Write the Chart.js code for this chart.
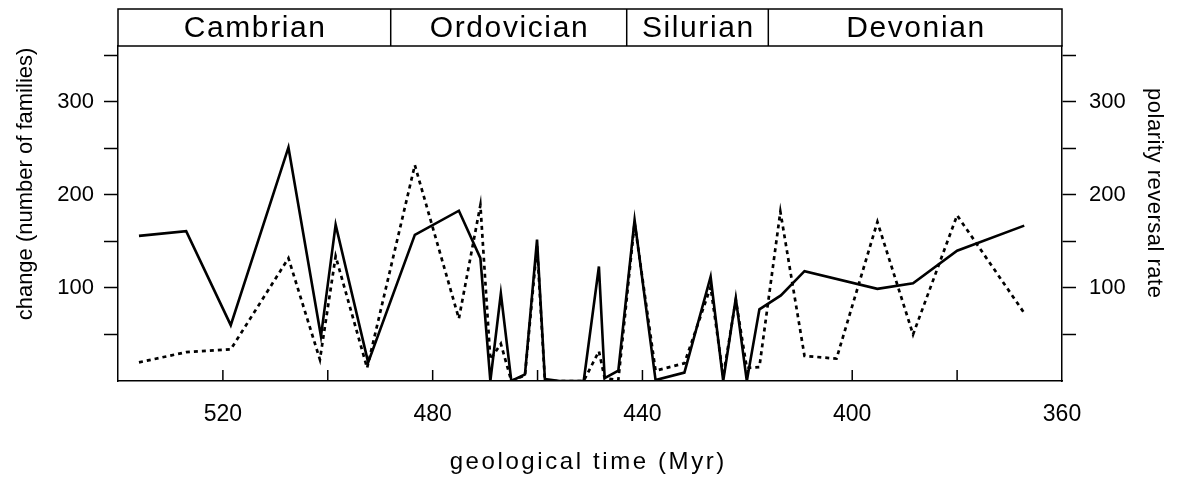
<!DOCTYPE html>
<html>
<head>
<meta charset="utf-8">
<script src="https://cdn.jsdelivr.net/npm/chart.js@4/dist/chart.umd.min.js"></script>
<style>
  html, body { margin: 0; padding: 0; background: #fff; }
  #wrap { width: 1177px; height: 481px; }
</style>
</head>
<body>
<div id="wrap"><canvas id="c" width="1177" height="481"></canvas></div>
<script>
// Change in number of families through time (Myr before present)
const familyAges = [536, 527, 518.5, 507.5, 501.3, 498.5, 492.3, 483.4, 475, 470.9,
  469, 467, 465, 462.4, 460.1, 458.6, 455.8, 451.2, 448.3, 447.2,
  444.6, 441.5, 437.5, 432, 427, 424.6, 422.2, 420.1, 417.7, 413.6,
  409.1, 395.2, 388.4, 380, 367.2];
const familyChange = [156, 161, 60, 251, 48, 168, 20, 157, 183, 132,
  0, 94, 0, 7, 152, 2, 0, 0, 123, 3,
  11, 173, 1, 9, 112, 0, 89, 0, 77, 92,
  118, 99, 105, 140, 167];

// Geomagnetic polarity reversal rate
const reversalAges = [536, 527, 518.5, 507.5, 501.5, 498.5, 492.5, 483.4, 475, 470.9,
  469, 467, 465, 462.4, 460.1, 458.6, 451.2, 448.3, 447.2, 444.6,
  441.5, 437.5, 432, 427, 424.6, 422.2, 420.1, 417.7, 413.7, 409.1,
  403, 395.2, 388.4, 380, 367.2];
const reversalRate = [20, 31, 34, 132, 23, 134, 14, 232, 67, 189,
  23, 40, 0, 6, 145, 0, 0, 32, 3, 1,
  170, 11, 19, 101, 5, 87, 14, 15, 182, 27,
  24, 171, 50, 178, 73];

// Geological periods and their boundaries (Myr)
const periodNames = ['Cambrian', 'Ordovician', 'Silurian', 'Devonian'];
const periodBounds = [540, 488, 443, 416, 360];

const xTickLabels = [520, 480, 440, 400, 360];
const yTickLabels = [100, 200, 300];

const xTitle = 'geological time (Myr)';
const yTitle = 'change (number of families)';
const y2Title = 'polarity reversal rate';

const FONT = 'Liberation Sans, Arial, Helvetica, sans-serif';
const INK = '#000';

const toPoints = (xs, ys) => xs.map((x, i) => ({ x: x, y: ys[i] }));

function drawText(ctx, text, x, y, angle, size, spacing) {
  ctx.save();
  ctx.translate(x, y);
  ctx.rotate(angle);
  ctx.font = size + 'px ' + FONT;
  ctx.letterSpacing = spacing + 'px';
  ctx.textAlign = 'center';
  ctx.textBaseline = 'middle';
  ctx.fillStyle = INK;
  ctx.fillText(text, spacing / 2, 0);
  ctx.restore();
}

// Period strip above the plot, the plot's top edge, inward x ticks and axis titles
const decorations = {
  id: 'decorations',
  afterDraw(chart) {
    const ctx = chart.ctx;
    const area = chart.chartArea;
    const xs = chart.scales.x;
    const stripTop = 9;
    ctx.save();
    ctx.strokeStyle = INK;
    ctx.lineWidth = 1.5;
    ctx.strokeRect(area.left, stripTop, area.right - area.left, area.top - stripTop);
    for (let i = 0; i < periodNames.length; i++) {
      const a = xs.getPixelForValue(periodBounds[i]);
      const b = xs.getPixelForValue(periodBounds[i + 1]);
      if (i > 0) {
        ctx.beginPath();
        ctx.moveTo(a, stripTop);
        ctx.lineTo(a, area.top);
        ctx.stroke();
      }
      drawText(ctx, periodNames[i], (a + b) / 2, (stripTop + area.top) / 2 + 1, 0, 30, 1.6);
    }
    xs.ticks.forEach(t => {
      if (t.value <= xs.min || t.value >= xs.max) return;
      const px = xs.getPixelForValue(t.value);
      ctx.beginPath();
      ctx.moveTo(px, area.bottom);
      ctx.lineTo(px, area.bottom - 11);
      ctx.stroke();
    });
    ctx.restore();

    drawText(ctx, xTitle, 587, 462, 0, 24, 2.6);
    drawText(ctx, yTitle, 26, 184, -Math.PI / 2, 22, 0);
    drawText(ctx, y2Title, 1154, 193, Math.PI / 2, 22, 0.5);
  }
};

const yAxis = (position, width, labelPad) => ({
  type: 'linear',
  position: position,
  min: 0,
  max: 360,
  afterFit: s => { s.width = width; },
  border: { display: true, color: INK, width: 1.5 },
  grid: {
    drawOnChartArea: false,
    drawTicks: true,
    tickLength: 14,
    tickWidth: 1.5,
    tickColor: c => (c.tick && c.tick.value === 0 ? 'rgba(0,0,0,0)' : INK)
  },
  ticks: {
    stepSize: 50,
    includeBounds: false,
    padding: labelPad,
    color: INK,
    font: { family: FONT, size: 22 },
    callback: v => (yTickLabels.includes(v) ? String(v) : '')
  }
});

new Chart(document.getElementById('c'), {
  type: 'line',
  data: {
    datasets: [
      {
        label: yTitle,
        data: toPoints(familyAges, familyChange),
        yAxisID: 'y',
        borderColor: INK,
        borderWidth: 2.6,
        pointRadius: 0,
        tension: 0,
        fill: false
      },
      {
        label: y2Title,
        data: toPoints(reversalAges, reversalRate),
        yAxisID: 'y2',
        borderColor: INK,
        borderWidth: 2.7,
        borderDash: [4, 4],
        pointRadius: 0,
        tension: 0,
        fill: false
      }
    ]
  },
  options: {
    responsive: false,
    devicePixelRatio: 1,
    animation: false,
    layout: { padding: { top: 46, left: 0, right: 0, bottom: 0 } },
    plugins: {
      legend: { display: false },
      tooltip: { enabled: false }
    },
    scales: {
      x: {
        type: 'linear',
        position: 'bottom',
        reverse: true,
        min: 360,
        max: 540,
        afterFit: s => { s.height = 100; },
        border: { display: true, color: INK, width: 1.5 },
        grid: { drawOnChartArea: false, drawTicks: false },
        ticks: {
          stepSize: 20,
          autoSkip: false,
          maxRotation: 0,
          padding: 20,
          color: INK,
          font: { family: FONT, size: 23 },
          callback: v => (xTickLabels.includes(v) ? String(v) : '')
        }
      },
      y: yAxis('left', 118, 10),
      y2: yAxis('right', 115, 13)
    }
  },
  plugins: [decorations]
});
</script>
</body>
</html>
